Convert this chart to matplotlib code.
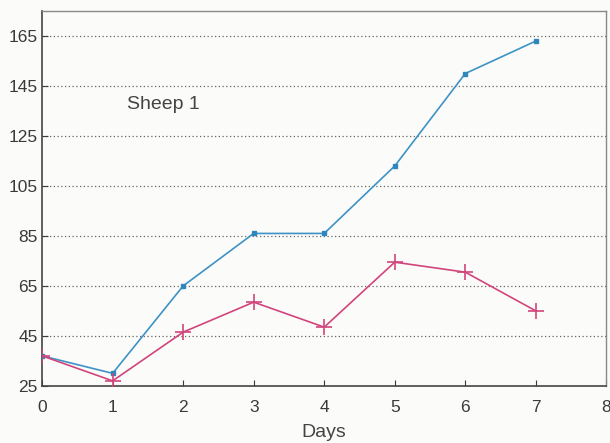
import matplotlib
matplotlib.use("Agg")
import matplotlib.pyplot as plt

days = [0, 1, 2, 3, 4, 5, 6, 7]
series_blue = [37, 30, 65, 86, 86, 113, 150, 163]
series_pink = [37, 27, 46.5, 58.5, 48.5, 74.5, 70.5, 55]
yticks = [25, 45, 65, 85, 105, 125, 145, 165]
xticks = [0, 1, 2, 3, 4, 5, 6, 7, 8]

plt.rcParams['font.family'] = ['Liberation Sans', 'DejaVu Sans']
bg = '#fbfbf9'
fig = plt.figure(figsize=(6.10, 4.43), dpi=100, facecolor=bg)
ax = fig.add_axes([0.069, 0.129, 0.925, 0.846], facecolor=bg)

ax.plot(days, series_blue, color='#3d93c6', lw=1.2, marker='s', ms=3.5,
        mec='#2f86bd', mfc='#2f86bd', zorder=3)
ax.plot(days, series_pink, color='#d2447c', lw=1.2, marker='+', ms=12,
        mew=1.2, zorder=3)

ax.set_xlim(0, 8)
ax.set_ylim(25, 175)
ax.set_xticks(xticks)
ax.set_yticks(yticks)
ax.tick_params(axis='both', direction='in', length=4, width=0.8,
               labelsize=12.5, colors='#3a3a3a')
ax.tick_params(axis='x', pad=10)
ax.tick_params(axis='y', pad=3)
for y in yticks[1:]:
    ax.axhline(y, color='#666666', lw=0.9, ls=(0, (1, 2)), zorder=1)

for s in ['left', 'bottom']:
    ax.spines[s].set_color('#444444')
    ax.spines[s].set_linewidth(1.2)
for s in ['top', 'right']:
    ax.spines[s].set_color('#888888')
    ax.spines[s].set_linewidth(1.0)

ax.text(1.2, 137.8, 'Sheep 1', fontsize=14, color='#444444', va='center', ha='left')
ax.set_xlabel('Days', fontsize=14, color='#444444', labelpad=7)

fig.savefig('out.png', dpi=100, facecolor=bg)
